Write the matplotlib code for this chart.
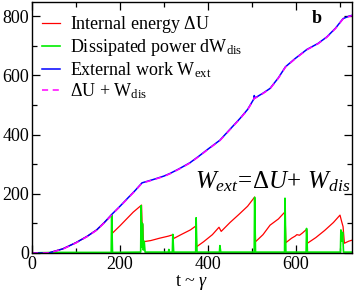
import matplotlib
matplotlib.use('Agg')
import matplotlib.pyplot as plt
import numpy as np

# W_ext (blue) and DeltaU + W_dis (magenta dashed)
t_ext = [0, 20, 40, 70, 100, 125, 147, 165, 181, 200, 218, 235, 250, 275, 300, 314, 335,
         359, 380, 400, 427, 450, 473, 490, 504, 505, 507, 525, 541, 560, 576, 598, 625,
         650, 670, 690, 707, 720, 727]
w_ext = [0, 0, 1, 14, 35, 56, 78, 104, 130, 158, 186, 212, 237, 248, 260, 269, 285,
         305, 328, 351, 381, 418, 455, 485, 520, 532, 524, 540, 556, 592, 629, 657, 688,
         708, 730, 760, 792, 800, 803]
w_sum = [0, 0, 1, 13, 34, 55, 77, 103, 129, 157, 185, 211, 236, 247, 259, 268, 284,
         304, 327, 350, 380, 417, 454, 484, 519, 524, 523, 539, 555, 591, 628, 656, 687,
         707, 729, 759, 791, 799, 802]

# internal energy (red)
t_u = [0, 20, 40, 70, 100, 125, 147, 165, 181,
       182, 200, 215, 230, 249,
       250, 252, 253, 270, 290, 310, 321,
       322, 340, 360, 373,
       374, 390, 410, 425, 430, 450, 470, 490, 506,
       508, 525, 541, 560, 575,
       577, 590, 598, 602, 608, 615, 624,
       626, 645, 665, 685, 700, 704, 707, 710, 720, 729]
u = [0, 0, 1, 14, 35, 56, 78, 104, 128,
     66, 92, 115, 138, 162,
     105, 95, 38, 42, 50, 57, 62,
     49, 63, 78, 92,
     21, 38, 62, 87, 73, 103, 130, 158, 189,
     38, 62, 94, 115, 139,
     35, 50, 57, 62, 60, 68, 80,
     33, 52, 76, 103, 128, 105, 89, 33, 40, 44]

# dissipated power (green)
t_dis = [0, 20, 60, 100, 150, 180, 181, 183, 247, 248, 250, 251, 253, 255, 257,
         310, 311, 312, 319, 320, 322, 372, 373, 375, 426, 427, 429,
         505, 506, 508, 574, 575, 577, 623, 624, 626, 701, 702, 704, 706, 708, 727]
p_dis = [0, 1, 2, 2, 2, 2, 128, 2, 3, 160, 20, 100, 10, 40, 3,
         3, 12, 3, 3, 63, 3, 3, 119, 3, 3, 25, 3,
         3, 188, 3, 3, 185, 3, 3, 83, 3, 3, 78, 40, 70, 3, 3]

plt.rcParams['font.family'] = ['Liberation Serif', 'DejaVu Serif']
plt.rcParams['mathtext.fontset'] = 'custom'
plt.rcParams['mathtext.rm'] = 'Liberation Serif'
plt.rcParams['mathtext.it'] = 'Liberation Serif:italic'
plt.rcParams['mathtext.bf'] = 'Liberation Serif:bold'

fig = plt.figure(figsize=(3.54, 2.91), dpi=100)
ax = fig.add_axes([0.0904, 0.1306, 0.9036, 0.8624])

ax.plot(t_u, u, color='#ff0000', lw=0.9, label=r'Internal energy $\Delta$U')
ax.plot(t_dis, p_dis, color='#00ee00', lw=1.2, label=r'Dissipated power dW$_{\rm dis}$')
ax.plot(t_ext, w_ext, color='#0000ff', lw=1.1, label=r'External work W$_{\rm ext}$')
ax.plot(t_ext, w_sum, color='#ff00ff', lw=1.1, ls=(0, (4, 3)), label=r'$\Delta$U + W$_{\rm dis}$')

ax.set_xlim(0, 727)
ax.set_ylim(0, 848)
ax.set_xticks([0, 200, 400, 600])
ax.set_xticks(np.arange(100, 727, 200), minor=True)
ax.set_yticks([0, 200, 400, 600, 800])
ax.set_yticks(np.arange(100, 848, 200), minor=True)
ax.tick_params(which='both', direction='in', top=True, right=True, labelsize=13, width=0.9)
ax.tick_params(which='major', length=6, pad=2)
ax.tick_params(which='minor', length=3.5)
for sp in ax.spines.values():
    sp.set_linewidth(1.0)

ax.set_xlabel(r't ~ $\gamma$', fontsize=13, labelpad=0)

leg = ax.legend(loc='upper left', frameon=False, fontsize=13, handlelength=1.0,
                handletextpad=0.55, labelspacing=0.1, borderaxespad=0.15,
                bbox_to_anchor=(0.0, 0.99))

ax.text(0.875, 0.935, 'b', transform=ax.transAxes, fontsize=13, fontweight='bold',
        ha='left', va='center')
ax.text(0.51, 0.285, r'$W_{ext}\!=\!\Delta U\!+\,W_{dis}$', transform=ax.transAxes,
        fontsize=18, ha='left', va='center')

fig.savefig('out.png', dpi=100)
